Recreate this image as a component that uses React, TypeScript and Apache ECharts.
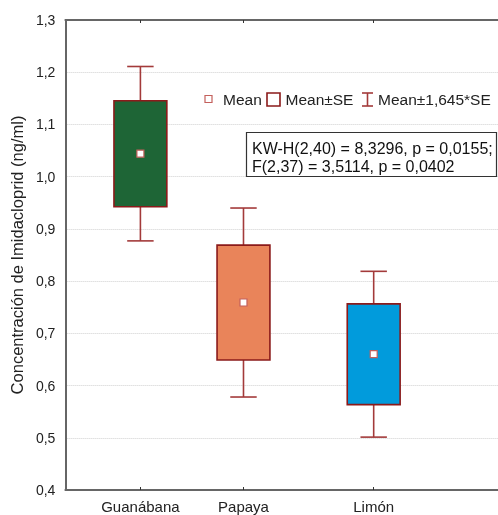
import React, { useEffect, useRef } from "react";
import * as echarts from "echarts";

const categories = ["Guanábana", "Papaya", "Limón"];
const xPositions = [1, 2, 3.263];
const means = [1.044, 0.759, 0.66];
const standardErrors = [0.1015, 0.11, 0.0965];
const ciFactor = 1.645;
const boxColors = ["#1e6536", "#e9845a", "#019bdc"];
const yTicks = { min: 0.4, max: 1.3, interval: 0.1 };
const legendLabels = ["Mean", "Mean±SE", "Mean±1,645*SE"];
const statLines = ["KW-H(2,40) = 8,3296, p = 0,0155;", "F(2,37) = 3,5114, p = 0,0402"];
const yName = "Concentración de Imidacloprid (ng/ml)";

const FONT = "'Liberation Sans', Arial, sans-serif";
const BORDER = "#8b1a1a";
const WHISK = "#a33a3a";
const MEANC = "#c4605c";
const AXIS = "#666666";

export default function App() {
  const ref = useRef<HTMLDivElement>(null);
  useEffect(() => {
    if (!ref.current) return;
    const chart = echarts.init(ref.current, null, { renderer: "svg" });
    const boxW = 0.513;
    const data = xPositions.map((x, i) => [x, means[i], standardErrors[i]]);
    const fmtCat = (v: number) => {
      const i = xPositions.findIndex((p) => Math.abs(p - v) < 1e-6);
      return i >= 0 ? categories[i] : "";
    };
    const option: any = {
      animation: false,
      grid: { left: 64, right: 0, top: 20, bottom: 25 },
      xAxis: [
        {
          type: "value",
          min: 0.272,
          max: 4.469,
          position: "bottom",
          splitLine: { show: false },
          axisLine: { show: true, lineStyle: { color: AXIS, width: 2 } },
          axisTick: { show: true, inside: true, length: 3, customValues: xPositions, lineStyle: { color: "#333", width: 1 } },
          axisLabel: {
            customValues: xPositions,
            formatter: (v: number) => fmtCat(v),
            fontFamily: FONT,
            fontSize: 15,
            color: "#222",
            margin: 9,
          },
        },
        {
          type: "value",
          min: 0.272,
          max: 4.469,
          position: "top",
          splitLine: { show: false },
          axisLine: { show: true, lineStyle: { color: AXIS, width: 2 } },
          axisTick: { show: true, inside: true, length: 3, customValues: xPositions, lineStyle: { color: "#333", width: 1 } },
          axisLabel: { show: false },
        },
      ],
      yAxis: {
        type: "value",
        min: yTicks.min,
        max: yTicks.max,
        interval: yTicks.interval,
        name: yName,
        nameLocation: "middle",
        nameGap: 40,
        nameTextStyle: { fontFamily: FONT, fontSize: 16.5, color: "#222" },
        axisLine: { show: true, lineStyle: { color: AXIS, width: 2 } },
        axisTick: { show: false },
        axisLabel: {
          fontFamily: FONT,
          fontSize: 14,
          color: "#222",
          margin: 10,
          formatter: (v: number) => v.toFixed(1).replace(".", ","),
        },
        splitLine: { show: true, lineStyle: { color: "#d0d0d0", type: "dotted", width: 1 } },
      },
      series: [
        {
          type: "custom",
          xAxisIndex: 0,
          data,
          encode: { x: 0, y: 1 },
          renderItem: (params: any, api: any) => {
            const x = api.value(0);
            const m = api.value(1);
            const se = api.value(2);
            const idx = params.dataIndex;
            const cx = api.coord([x, m])[0];
            const cy = api.coord([x, m])[1];
            const hw = api.size([boxW, 0])[0] / 2;
            const yBoxTop = api.coord([x, m + se])[1];
            const yBoxBot = api.coord([x, m - se])[1];
            const yWTop = api.coord([x, m + ciFactor * se])[1];
            const yWBot = api.coord([x, m - ciFactor * se])[1];
            const capHw = hw / 2;
            const ls = { stroke: WHISK, lineWidth: 1.6 };
            return {
              type: "group",
              children: [
                { type: "line", shape: { x1: cx, y1: yWTop, x2: cx, y2: yBoxTop }, style: ls },
                { type: "line", shape: { x1: cx, y1: yBoxBot, x2: cx, y2: yWBot }, style: ls },
                { type: "line", shape: { x1: cx - capHw, y1: yWTop, x2: cx + capHw, y2: yWTop }, style: ls },
                { type: "line", shape: { x1: cx - capHw, y1: yWBot, x2: cx + capHw, y2: yWBot }, style: ls },
                {
                  type: "rect",
                  shape: { x: cx - hw, y: yBoxTop, width: hw * 2, height: yBoxBot - yBoxTop },
                  style: { fill: boxColors[idx], stroke: BORDER, lineWidth: 1.6 },
                },
                {
                  type: "rect",
                  shape: { x: cx - 3.5, y: cy - 3.5, width: 7, height: 7 },
                  style: { fill: "#ffffff", stroke: MEANC, lineWidth: 1.2 },
                },
              ],
            };
          },
        },
      ],
      graphic: [
        // legend
        { type: "rect", shape: { x: 205, y: 95.5, width: 7, height: 7 }, style: { fill: "#fff", stroke: MEANC, lineWidth: 1.2 } },
        { type: "text", x: 223, y: 99, style: { text: legendLabels[0], font: `15.5px ${FONT}`, fill: "#222", verticalAlign: "middle" } },
        { type: "rect", shape: { x: 267, y: 93, width: 13, height: 13 }, style: { fill: "#fff", stroke: BORDER, lineWidth: 1.6 } },
        { type: "text", x: 285.5, y: 99, style: { text: legendLabels[1], font: `15.5px ${FONT}`, fill: "#222", verticalAlign: "middle" } },
        { type: "line", shape: { x1: 367.5, y1: 93, x2: 367.5, y2: 106 }, style: { stroke: WHISK, lineWidth: 1.6 } },
        { type: "line", shape: { x1: 362, y1: 93, x2: 373, y2: 93 }, style: { stroke: WHISK, lineWidth: 1.6 } },
        { type: "line", shape: { x1: 362, y1: 106, x2: 373, y2: 106 }, style: { stroke: WHISK, lineWidth: 1.6 } },
        { type: "text", x: 378, y: 99, style: { text: legendLabels[2], font: `15.5px ${FONT}`, fill: "#222", verticalAlign: "middle" } },
        // stats box
        { type: "rect", shape: { x: 246.5, y: 132.5, width: 250, height: 44 }, style: { fill: "#fff", stroke: "#333", lineWidth: 1.2 }, z: 10 },
        { type: "text", x: 252, y: 148, z: 11, style: { text: statLines[0], font: `16px ${FONT}`, fill: "#111", verticalAlign: "middle" } },
        { type: "text", x: 252, y: 166, z: 11, style: { text: statLines[1], font: `16px ${FONT}`, fill: "#111", verticalAlign: "middle" } },
      ],
    };
    chart.setOption(option);
    return () => chart.dispose();
  }, []);
  return <div ref={ref} style={{ position: "fixed", left: 0, top: 0, width: 498, height: 515 }} />;
}
